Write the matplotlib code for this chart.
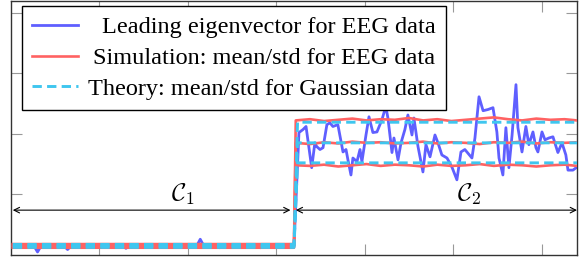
import matplotlib
matplotlib.use("Agg")
import matplotlib.pyplot as plt

# ---------------- data ----------------
# leading eigenvector, class C1 (sparse read-off points)
eig_c1_x = [1, 13, 15, 17, 30, 32, 34, 63, 65, 67, 105, 107, 109, 116, 118, 120, 139, 141, 143, 160]
eig_c1_y = [0.15, 0.15, 0.05, 0.15, 0.15, 0.09, 0.15, 0.15, 0.11, 0.15, 0.15, 0.26, 0.15, 0.15, 0.12, 0.15, 0.15, 0.12, 0.15, 0.15]

# leading eigenvector, class C2
eig_c2_x = [162.8, 165.1, 166.8, 170.0, 171.8, 172.8, 174.7, 176.4, 178.6, 180.3, 182.0, 184.8,
            187.7, 189.4, 190.5, 192.2, 193.3, 195.6, 197.3, 198.4, 200.7, 202.4, 204.6, 206.9,
            209.7, 211.9, 213.1, 215.4, 216.5, 218.8, 220.5, 222.7, 224.4, 226.7, 227.8, 230.1,
            232.9, 234.6, 236.9, 239.7, 241.4, 243.6, 246.5, 249.3, 252.1, 254.4, 256.6, 260.6,
            262.3, 264.6, 266.9, 269.7, 272.5, 274.7, 275.9, 278.1, 279.8, 281.5, 283.3, 285.5,
            286.6, 288.9, 291.1, 292.8, 295.1, 296.8, 297.9, 300.2, 301.9, 304.1, 306.4, 309.2,
            311.5, 313.7, 314.9, 317.7, 320.0]
eig_c2_y = [2.02, 2.07, 2.12, 1.44, 1.85, 1.79, 1.74, 1.77, 2.15, 2.18, 2.12, 2.15,
            1.70, 1.74, 1.57, 1.32, 1.60, 1.54, 1.74, 1.54, 1.98, 2.28, 2.02, 2.03,
            2.23, 2.45, 2.26, 1.69, 1.93, 1.57, 1.85, 2.07, 2.31, 1.98, 2.26, 1.79,
            1.37, 1.82, 1.62, 1.98, 1.85, 1.65, 1.60, 1.45, 1.24, 1.70, 1.74, 1.60,
            1.93, 2.61, 2.38, 2.40, 2.43, 2.03, 1.60, 1.32, 2.10, 1.44, 1.98, 2.81,
            2.10, 1.70, 2.12, 1.82, 2.03, 1.77, 1.70, 2.03, 1.90, 1.93, 1.95, 1.69,
            1.85, 1.65, 1.40, 1.40, 1.45]

# simulation mean / mean +- std
sim_x = [1, 160, 161, 169, 177, 185, 193, 201, 209, 217, 225, 233, 241, 249, 257, 265,
         273, 281, 289, 297, 305, 313, 320]
sim_upper = [0.18, 0.18, 2.22, 2.24, 2.21, 2.23, 2.25, 2.22, 2.24, 2.23, 2.26, 2.22, 2.24,
             2.21, 2.23, 2.25, 2.27, 2.24, 2.22, 2.25, 2.23, 2.24, 2.22]
sim_mean = [0.15, 0.15, 1.85, 1.83, 1.86, 1.84, 1.87, 1.85, 1.86, 1.84, 1.85, 1.87, 1.84,
            1.86, 1.85, 1.83, 1.86, 1.85, 1.87, 1.84, 1.86, 1.85, 1.86]
sim_lower = [0.12, 0.12, 1.48, 1.47, 1.49, 1.46, 1.48, 1.50, 1.47, 1.49, 1.48, 1.46, 1.49,
             1.47, 1.48, 1.50, 1.47, 1.49, 1.48, 1.46, 1.48, 1.49, 1.47]

# theory mean / mean +- std
th_x = [1, 160, 162, 320]
th_upper = [0.175, 0.175, 2.19, 2.19]
th_mean = [0.15, 0.15, 1.85, 1.85]
th_lower = [0.125, 0.125, 1.52, 1.52]

labels = ["Leading eigenvector for EEG data",
          "Simulation: mean/std for EEG data",
          "Theory: mean/std for Gaussian data"]
class_labels = [r"$\mathcal{C}_1$", r"$\mathcal{C}_2$"]
class_spans = [(1, 158), (161, 320)]
class_label_x = [97, 259]

# ---------------- style ----------------
BLUE = "#5f5fff"
RED = "#ff6262"
CYAN = "#3fc6ef"

plt.rcParams["mathtext.fontset"] = "cm"
fig = plt.figure(figsize=(5.86, 2.62), dpi=100)
ax = fig.add_axes([11 / 586, 7 / 262, 566 / 586, 254 / 262])

ax.plot(eig_c1_x + eig_c2_x, eig_c1_y + eig_c2_y, color=BLUE, lw=2.0, label=labels[0], zorder=2)
for i, s in enumerate([sim_upper, sim_mean, sim_lower]):
    ax.plot(sim_x, s, color=RED, lw=1.9, label=labels[1] if i == 0 else None, zorder=3)
for i, s in enumerate([th_upper, th_mean, th_lower]):
    ax.plot(th_x, s, color=CYAN, lw=2.1, linestyle=(0, (3.2, 1.8)),
            label=labels[2] if i == 0 else None, zorder=4)

# class annotations
for (a, b), lab, lx in zip(class_spans, class_labels, class_label_x):
    ax.annotate("", xy=(a, 0.74), xytext=(b, 0.74),
                arrowprops=dict(arrowstyle="<->", color="black", lw=0.8,
                                shrinkA=0, shrinkB=0))
    ax.text(lx, 1.0, lab, ha="center", va="center", fontsize=18)

ax.set_xlim(0, 320)
ax.set_ylim(0, 4.19)
ax.set_xticks([50, 100, 150, 200, 250, 300])
ax.set_yticks([1, 2, 3, 4])
ax.tick_params(direction="in", length=8, width=0.8, color="#999999",
               top=True, right=True, labelleft=False, labelbottom=False)
for sp in ax.spines.values():
    sp.set_color("#333333")
    sp.set_linewidth(1.0)

leg = ax.legend(loc="upper left", bbox_to_anchor=(0.019, 0.98), borderaxespad=0,
                prop={"family": "Liberation Serif", "size": 17.5}, fancybox=False,
                framealpha=1, edgecolor="black", handlelength=1.9, handletextpad=0.4,
                labelspacing=0.36, borderpad=0.42)
leg.get_frame().set_linewidth(1.0)

# right-align legend labels
fig.canvas.draw()
r = fig.canvas.get_renderer()
texts = leg.get_texts()
ws = [t.get_window_extent(r).width for t in texts]
mw = max(ws)
col = leg._legend_handle_box.get_children()[0]
for hp, w in zip(col.get_children(), ws):
    hp.sep = hp.sep + (mw - w) * 72.0 / fig.dpi

fig.savefig("out.png", dpi=100)
